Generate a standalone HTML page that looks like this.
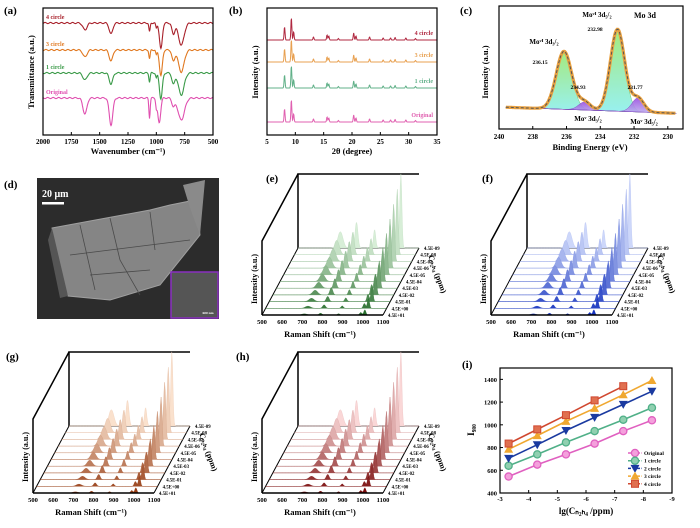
<!DOCTYPE html>
<html><head><meta charset="utf-8"><style>
html,body{margin:0;padding:0;background:#fff;}
svg{display:block;font-family:"Liberation Serif",serif;}
text{font-weight:bold;}
</style></head><body>
<svg id="fig" width="700" height="528" viewBox="0 0 700 528" xmlns="http://www.w3.org/2000/svg">
<defs>
<linearGradient id="gpk" x1="0" y1="0" x2="0" y2="1"><stop offset="0" stop-color="#9be870"/><stop offset="1" stop-color="#8ef0f0"/></linearGradient>
<linearGradient id="ppk" x1="0" y1="0" x2="0" y2="1"><stop offset="0" stop-color="#9a50e0"/><stop offset="1" stop-color="#c0b0f0"/></linearGradient>
</defs>
<g id="root"></g>
</svg>
<script>
const NS="http://www.w3.org/2000/svg";
const root=document.getElementById('root');
function mk(tag,attrs,parent){const e=document.createElementNS(NS,tag);for(const k in attrs)e.setAttribute(k,attrs[k]);(parent||root).appendChild(e);return e;}
function txt(x,y,s,size,fill,anchor,parent,rot){const e=mk('text',{x:x,y:y,'font-size':size,fill:fill||'#000','text-anchor':anchor||'middle'},parent);if(rot)e.setAttribute('transform','rotate('+rot+' '+x+' '+y+')');e.textContent=s;return e;}

/* ---------- Panel (i) data ---------- */
const iX=[-3.3,-4.3,-5.3,-6.3,-7.3,-8.3];
const iOriginal=[545,650,740,835,945,1040];
const iCircle1=[640,740,845,945,1045,1150];
const iCircle2=[705,825,950,1065,1180,1295];
const iCircle3=[785,905,1030,1145,1265,1390];
const iCircle4=[835,960,1085,1215,1340];
const iXTicks=[-3,-4,-5,-6,-7,-8,-9];
const iYTicks=[400,600,800,1000,1200,1400];
const iSeriesNames=['Original','1 circle','2 circle','3 circle','4 circle'];

/* ---------- Panel (a) FTIR dips: [wavenumber, depth, width] ---------- */
const aNames=['4 circle','3 circle','1 circle','Original'];
const aBase=[23,50,73,98];
const aDipsCycled=[[1630,7,25],[1400,11,22],[1060,9,8],[960,26,18],[850,11,18],[780,22,35],[1000,5,8]];
const aDipsOriginal=[[1630,16,25],[1400,27,22],[1060,20,8],[975,25,18],[850,8,18],[780,22,40],[1000,8,8]];
const aXTicks=[2000,1750,1500,1250,1000,750,500];

/* ---------- Panel (b) XRD peaks: [2theta, height] ---------- */
const bNames=['4 circle','3 circle','1 circle','Original'];
const bBase=[40,62,88,122];
const bPeaks=[[8.1,13],[9.3,22],[9.7,8],[13.2,3],[15.6,5],[15.9,4],[17.6,1.5],[20.3,7],[20.7,4],[23.1,3],[25.5,2],[26.8,2],[27.6,2.5],[29.5,2],[31.2,1.5]];
const bXTicks=[5,10,15,20,25,30,35];

/* ---------- Panel (c) XPS peaks: [BE, height, width] ---------- */
const cPeaks=[[236.15,58,0.65],[232.98,82,0.6],[234.93,8,0.5],[231.77,14,0.5]];
const cXTicks=[240,238,236,234,232,230];

/* ---------- Raman waterfall ---------- */
const ramanConc=['4.5E-09','4.5E-08','4.5E-07','4.5E-06','4.5E-05','4.5E-04','4.5E-03','4.5E-02','4.5E-01','4.5E+00','4.5E+01'];
const ramanPeaks=[[710,0.22,18],[790,0.35,10],[880,0.25,8],[990,0.5,8],[1010,1.0,7]];
const ramanXTicks=[500,600,700,800,900,1000,1100];

function plabel(x,y,s){const t=txt(x,y,s,11,'#000','start');}

/* ======= Panel (a) ======= */
(function(){
const g=mk('g',{});


plabel(4,14,'(a)');
const L=43,R=213,T=8,B=135;
const sx=v=>L+(2000-v)/1500*(R-L);
const cols=['#a8202a','#e07820','#3a9a48','#e050b0'];
for(let k=0;k<4;k++){
 const dips=k==3?aDipsOriginal:aDipsCycled;
 let d='';
 for(let v=2000;v>=500;v-=4){
  let y=aBase[k];
  for(const p of dips)y+=p[1]*Math.exp(-Math.pow((v-p[0])/p[2],2));
  y+=Math.sin(v*1.7+k)*0.6;
  d+=(v==2000?'M':'L')+sx(v).toFixed(1)+' '+y.toFixed(1);
 }
 const p=mk('path',{d:d,fill:'none',stroke:cols[k],'stroke-width':1.1},g);
 
 
 const t=txt(L+3,aBase[k]-4,aNames[k],6,cols[k],'start',g);
 
 
}
const f=mk('rect',{x:L,y:T,width:R-L,height:B-T,fill:'none',stroke:'#000','stroke-width':1.2},g);


for(const v of aXTicks){mk('line',{x1:sx(v),x2:sx(v),y1:B,y2:B-3,stroke:'#000'},g);const t=txt(sx(v),B+9,String(v),7,'#000','middle',g);}
const xt=txt(128,154,'Wavenumber (cm\u207B\u00B9)',8.5,'#000','middle',g);


const yt=txt(34,72,'Transmittance (a.u.)',8.5,'#000','middle',g,-90);


})();

/* ======= Panel (b) ======= */
(function(){
const g=mk('g',{});


plabel(229,14,'(b)');
const L=267,R=437,T=8,B=135;
const sx=v=>L+(v-5)/30*(R-L);
const cols=['#b02840','#e8a050','#60b088','#e060b0'];
for(let k=0;k<4;k++){
 let d='';
 for(let v=5;v<=35;v+=0.06){
  let y=bBase[k];
  for(const p of bPeaks)y-=p[1]*Math.exp(-Math.pow((v-p[0])/0.12,2));
  d+=(v==5?'M':'L')+sx(v).toFixed(1)+' '+y.toFixed(1);
 }
 const p=mk('path',{d:d,fill:'none',stroke:cols[k],'stroke-width':1},g);
 
 
 const t=txt(R-4,bBase[k]-5,bNames[k],6,cols[k],'end',g);
 
 
}
const f=mk('rect',{x:L,y:T,width:R-L,height:B-T,fill:'none',stroke:'#000','stroke-width':1.2},g);


for(const v of bXTicks){mk('line',{x1:sx(v),x2:sx(v),y1:B,y2:B-3,stroke:'#000'},g);const t=txt(sx(v),B+9,String(v),7,'#000','middle',g);}
const xt=txt(352,154,'2\u03B8 (degree)',8.5,'#000','middle',g);


const yt=txt(258,72,'Intensity (a.u.)',8.5,'#000','middle',g,-90);


})();

/* ======= Panel (c) ======= */
(function(){
const g=mk('g',{});


plabel(460,14,'(c)');
const L=499,R=683,T=6,B=129;
const sx=v=>L+(240-v)/10.9*(R-L);
const base=v=>107+(240-v)*0.6;
const gau=(p,v)=>p[1]*Math.exp(-Math.pow((v-p[0])/p[2],2));
const fills=['url(#gpk)','url(#gpk)','url(#ppk)','url(#ppk)'];
[0,1,2,3].forEach(k=>{
 let d='';
 for(let v=239.6;v>=229.5;v-=0.05){d+=(d?'L':'M')+sx(v).toFixed(1)+' '+(base(v)-gau(cPeaks[k],v)).toFixed(1);}
 d+='L'+sx(229.5)+' '+base(229.5)+'L'+sx(239.6)+' '+base(239.6)+'Z';
 const p=mk('path',{d:d,fill:fills[k],stroke:k<2?'#60c060':'#8040c0','stroke-width':0.5,opacity:0.9},g);
 
 
});
let d='';
for(let v=239.6;v>=229.5;v-=0.05){let y=base(v);for(const p of cPeaks)y-=gau(p,v);d+=(d?'L':'M')+sx(v).toFixed(1)+' '+y.toFixed(1);}
const env=mk('path',{d:d,fill:'none',stroke:'#e8a040','stroke-width':3.2},g);


const fit=mk('path',{d:d,fill:'none',stroke:'#555','stroke-width':1,'stroke-dasharray':'3,2'},g);


const f=mk('rect',{x:L,y:T,width:R-L,height:B-T,fill:'none',stroke:'#000','stroke-width':1.2},g);


for(const v of cXTicks){mk('line',{x1:sx(v),x2:sx(v),y1:B,y2:B-3,stroke:'#000'},g);const t=txt(sx(v),B+10,String(v),7,'#000','middle',g);}
const xt=txt(590,150,'Binding Energy (eV)',8.5,'#000','middle',g);


const yt=txt(488,72,'Intensity (a.u.)',8.5,'#000','middle',g,-90);


const labs=[[645,18,'Mo 3d',8],[544,44,'Mo\u1D5B\u1D35 3d\u2083/\u2082',7],[597,17,'Mo\u1D5B\u1D35 3d\u2085/\u2082',7],[540,64,'236.15',5.5],[595,31,'232.98',5.5],[578,89,'234.93',5.5],[635,89,'231.77',5.5],[588,121,'Mo\u1D5B 3d\u2083/\u2082',7],[644,124,'Mo\u1D5B 3d\u2085/\u2082',7]];
for(const l of labs){const t=txt(l[0],l[1],l[2],l[3],'#000','middle',g);}
})();

/* ======= Panel (d) SEM ======= */
(function(){
const g=mk('g',{});


plabel(4,188,'(d)');
const bg=mk('rect',{x:37,y:178,width:182,height:141,fill:'#2c2c2c'},g);


const c=mk('path',{d:'M52 228 L150 210 L170 205 L195 200 L200 235 L160 285 L110 300 L68 296 L55 270 Z',fill:'#858585',stroke:'#a0a0a0','stroke-width':1},g);


const c2=mk('path',{d:'M52 228 L68 296 L60 298 L48 240 Z',fill:'#555'},g);


const c3=mk('path',{d:'M183 185 L205 180 L200 235 L190 208 Z',fill:'#8a8a8a'},g);


for(const dd of ['M80 225 L95 290','M110 218 L120 260 L140 295','M150 212 L155 250','M70 255 L190 240','M90 275 L150 270']){const l=mk('path',{d:dd,fill:'none',stroke:'#4a4a4a','stroke-width':0.8},g);}
const sb=mk('rect',{x:42,y:202,width:22,height:2.5,fill:'#fff'},g);


const st=txt(42,197,'20 \u03BCm',10,'#fff','start',g);


const ins=mk('rect',{x:171,y:272,width:47,height:46,fill:'#555',stroke:'#8a2fc0','stroke-width':1.5},g);


const it=txt(208,314,'600 nm',3.5,'#fff','middle',g);


})();

/* ======= Raman waterfall panels ======= */
function waterfall(name,lab,lx,ly,ox,oy,light,dark){
 const g=mk('g',{});
 
 
 plabel(lx,ly,lab);
 const W=121,dx=36,dy=-67,H=74;
 const N=ramanConc.length;
 const sx=v=>(v-500)/600*W;
 const lerp=(a,b,t)=>Math.round(a+(b-a)*t);
 const colAt=t=>'rgb('+lerp(light[0],dark[0],t)+','+lerp(light[1],dark[1],t)+','+lerp(light[2],dark[2],t)+')';
 const bw=mk('path',{d:`M${ox+dx} ${oy+dy} L${ox+dx} ${oy+dy-H} L${ox+dx+W} ${oy+dy-H}`,fill:'none',stroke:'#000','stroke-width':1.5},g);
 
 
 const lw=mk('path',{d:`M${ox} ${oy} L${ox} ${oy-H} L${ox+dx} ${oy+dy-H}`,fill:'none',stroke:'#000','stroke-width':1.5},g);
 
 
 const fl=mk('path',{d:`M${ox} ${oy} L${ox+dx} ${oy+dy} L${ox+dx+W} ${oy+dy} M${ox+W} ${oy} L${ox+dx+W} ${oy+dy}`,fill:'none',stroke:'#000','stroke-width':1},g);
 
 
 for(let i=0;i<N;i++){
  const t=i/(N-1);
  const bx=ox+dx*(1-t), by=oy+dy*(1-t);
  const scale=H*Math.pow(1-0.85*t,1.4);
  let d='M'+bx.toFixed(1)+' '+by.toFixed(1);
  for(let v=500;v<=1100;v+=3){
   let y=0;for(const p of ramanPeaks)y+=p[1]*Math.exp(-Math.pow((v-p[0])/p[2],2));
   d+='L'+(bx+sx(v)).toFixed(1)+' '+(by-y*scale).toFixed(1);
  }
  d+='L'+(bx+W)+' '+by+'Z';
  const p=mk('path',{d:d,fill:colAt(t),stroke:colAt(Math.min(1,t+0.1)),'stroke-width':0.4},g);
  
  
  const ct=txt(bx+W+5,by+2,ramanConc[i],4.8,'#000','start',g);
  
  
 }
 const fr=mk('line',{x1:ox,y1:oy,x2:ox+W,y2:oy,stroke:'#000','stroke-width':1.5},g);
 
 
 for(const v of ramanXTicks){const t=txt(ox+sx(v),oy+9,String(v),6.5,'#000','middle',g);}
 const xt=txt(ox+58,oy+22,'Raman Shift (cm\u207B\u00B9)',8.5,'#000','middle',g);
 
 
 const yt=txt(ox-5,oy-36,'Intensity (a.u.)',8,'#000','middle',g,-90);
 
 
 const ctt=txt(ox+W+52,oy-40,'C\u2099\u2082\u2095\u2084 (ppm)',8,'#000','middle',g,70);
 
 
}
waterfall('e','(e)',266,182,262,315,[215,238,215],[40,110,45]);
waterfall('f','(f)',482,182,491,315,[205,215,250],[20,50,190]);
waterfall('g','(g)',6,360,33,493,[250,225,205],[150,60,20]);
waterfall('h','(h)',236,360,262,493,[250,215,215],[120,10,10]);

/* ======= Panel (i) ======= */
(function(){
const g=mk('g',{});


plabel(462,368,'(i)');
const L=500,R=672,T=368,B=493;
const sx=v=>L+(v-(-3))/(-6)*(R-L);
const sy=v=>B-(v-400)/1100*(B-T);
const f=mk('rect',{x:L,y:T,width:R-L,height:B-T,fill:'none',stroke:'#000','stroke-width':1.2},g);


for(const v of iXTicks){mk('line',{x1:sx(v),x2:sx(v),y1:B,y2:B-3,stroke:'#000'},g);const t=txt(sx(v),B+8,String(v),6.5,'#000','middle',g);}
for(const v of iYTicks){mk('line',{x1:L,x2:L+3,y1:sy(v),y2:sy(v),stroke:'#000'},g);const t=txt(L-3,sy(v)+2.5,String(v),6.5,'#000','end',g);}
const series=[iOriginal,iCircle1,iCircle2,iCircle3,iCircle4];
const cols=['#e060c0','#50b088','#1a3aa0','#f0a830','#d04830'];
const shapes=['circ','circ','tridown','triup','sq'];
function marker(x,y,k){
 const c=cols[k];let e;
 if(shapes[k]=='circ'){e=mk('circle',{cx:x,cy:y,r:3.6,fill:k==0?'#f4a0dc':'#90d0b0',stroke:c,'stroke-width':1.3},g);}
 else if(shapes[k]=='sq'){e=mk('rect',{x:x-3.5,y:y-3.5,width:7,height:7,fill:'#e07050',stroke:c,'stroke-width':1},g);}
 else if(shapes[k]=='triup'){e=mk('path',{d:`M${x} ${y-4.5}L${x+4.5} ${y+3.5}L${x-4.5} ${y+3.5}Z`,fill:c},g);}
 else {e=mk('path',{d:`M${x} ${y+4.5}L${x+4.5} ${y-3.5}L${x-4.5} ${y-3.5}Z`,fill:c},g);}
 return e;
}
series.forEach((s,k)=>{
 const pts=s.map((v,j)=>sx(iX[j]).toFixed(1)+','+sy(v).toFixed(1)).join(' ');
 const pl=mk('polyline',{points:pts,fill:'none',stroke:cols[k],'stroke-width':1.6},g);
 
 
 s.forEach((v,j)=>{const m=marker(sx(iX[j]),sy(v),k);});
 const ly=453+k*7.7;
 const ll=mk('line',{x1:628,x2:642,y1:ly,y2:ly,stroke:cols[k],'stroke-width':1.5,'stroke-dasharray':'3,1.5'},g);
 
 
 const lm=marker(635,ly,k);
 
 
 const lt=txt(644,ly+2,iSeriesNames[k],5.5,'#000','start',g);
 
 
});
const xt=txt(586,514,'lg(C\u2099\u2082\u2095\u2084 /ppm)',9,'#000','middle',g);


const yt=txt(474,430,'I\u2089\u2088\u2080',9,'#000','middle',g,-90);


})();
</script>
</body></html>
